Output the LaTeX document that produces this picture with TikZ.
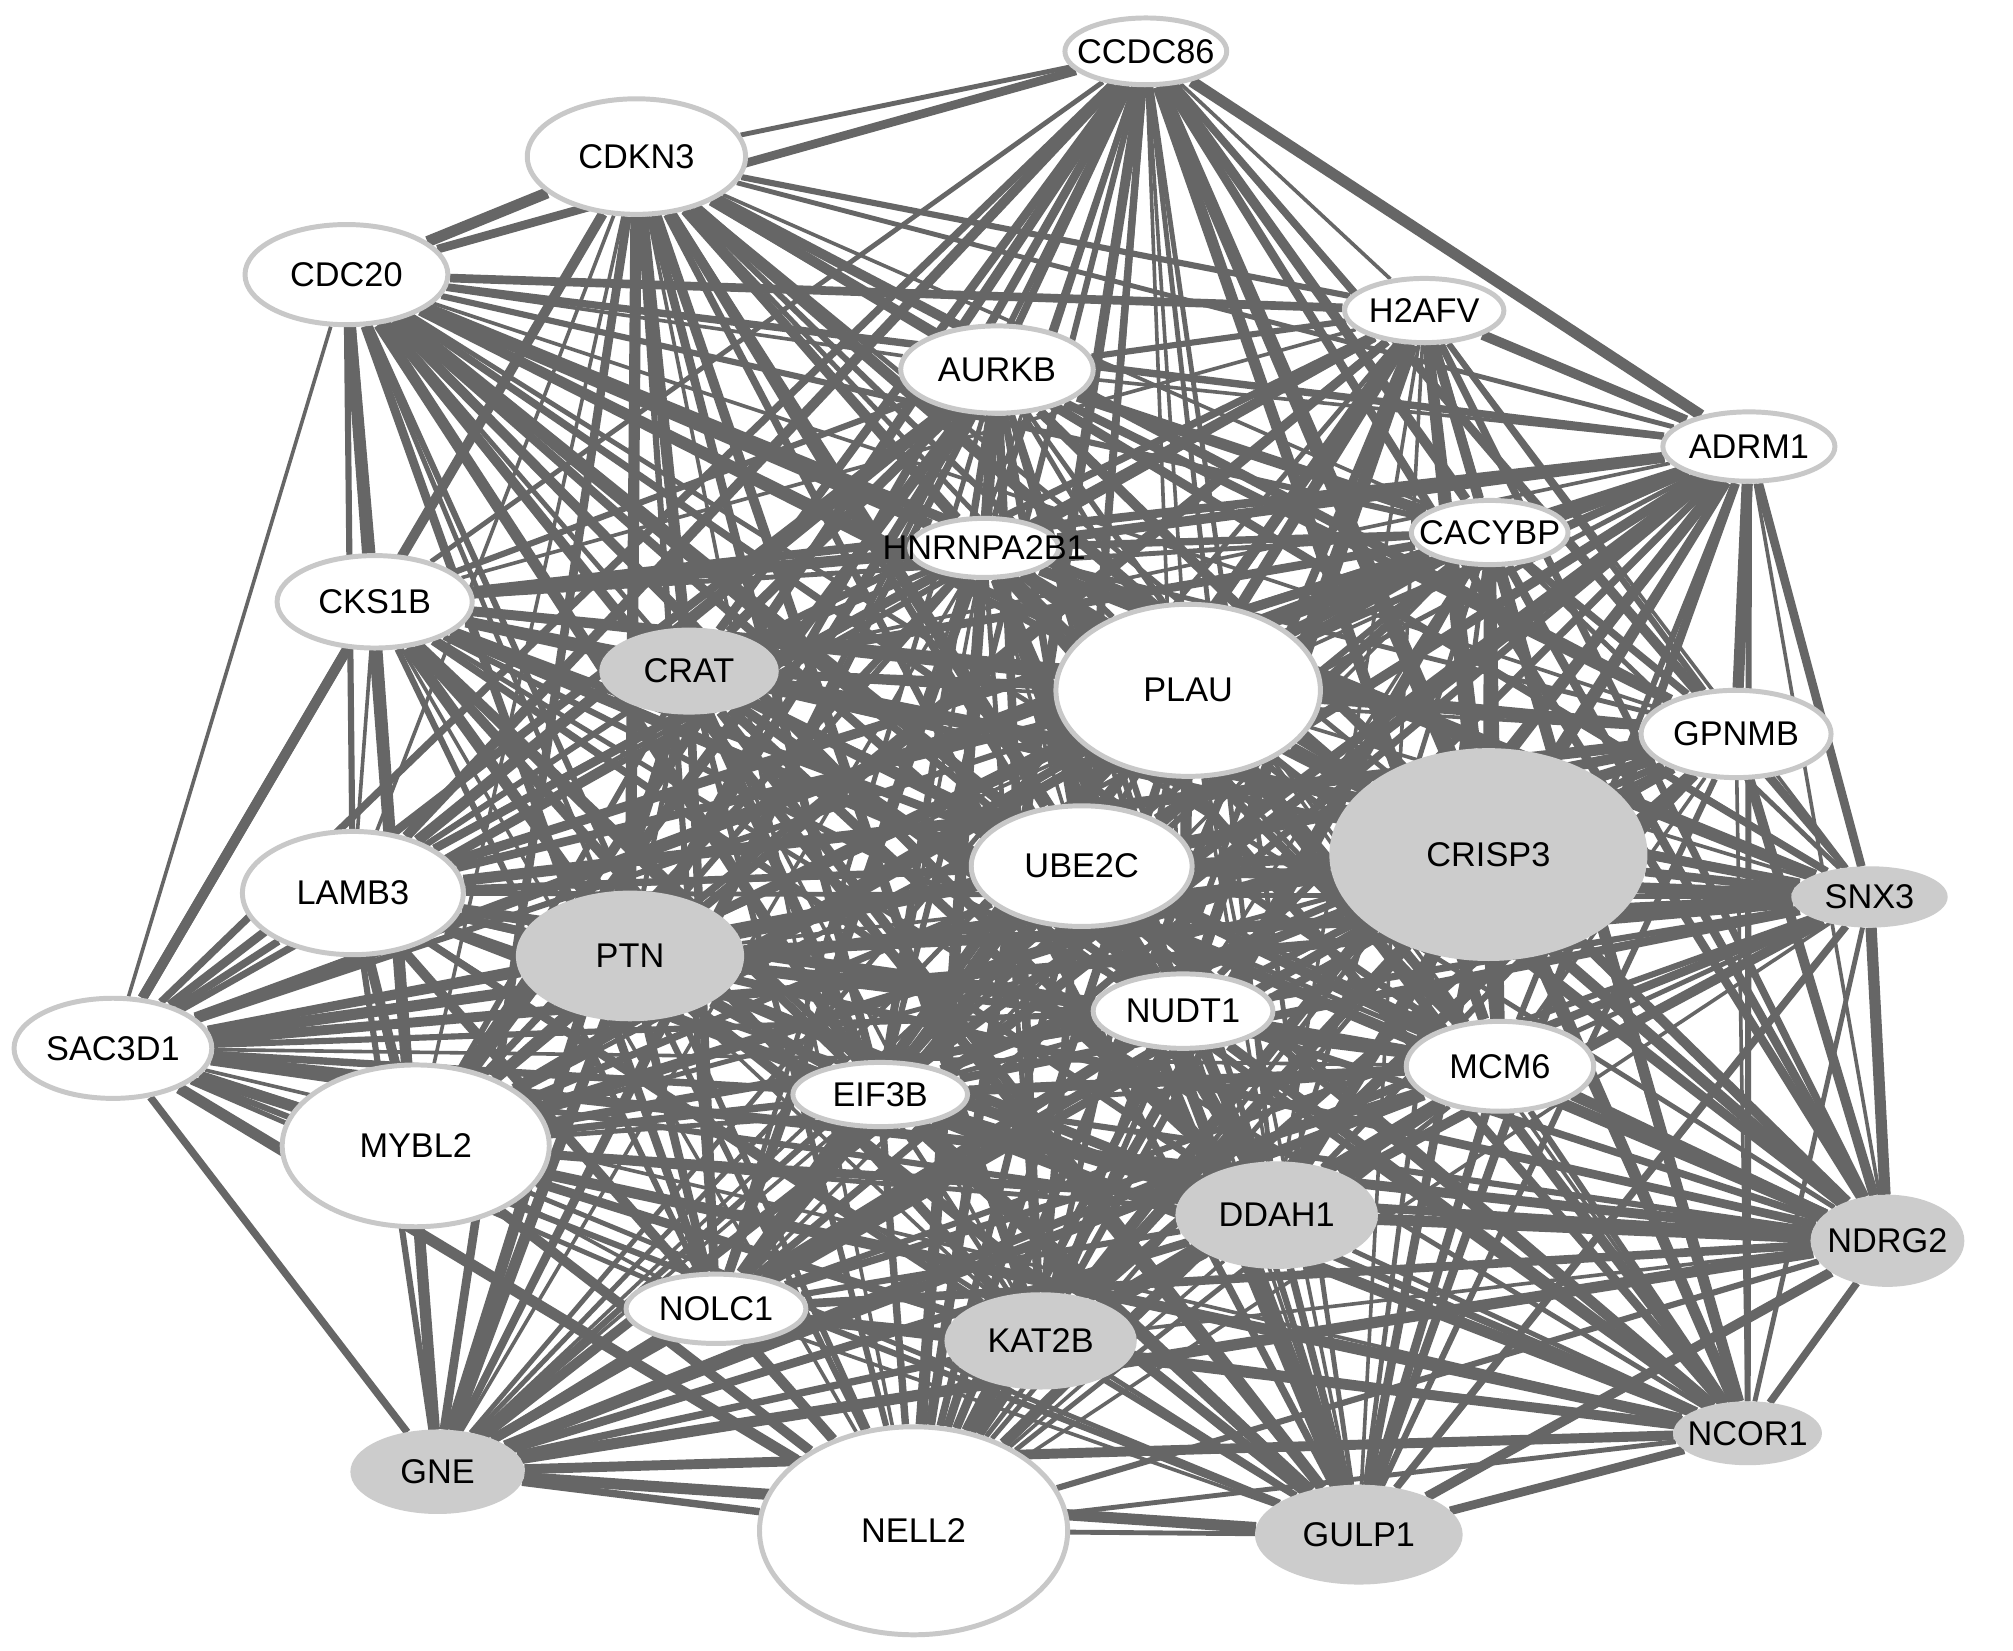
\documentclass[tikz,border=0pt]{standalone}
\usepackage{fontspec}
\setmainfont{Liberation Sans}
\usetikzlibrary{shapes.geometric}
\pgfdeclarelayer{bglayer}
\pgfdeclarelayer{edgelayer}
\pgfsetlayers{bglayer,edgelayer,main}
\definecolor{edgec}{RGB}{102,102,102}
\definecolor{ringc}{RGB}{200,200,200}
\definecolor{fillg}{RGB}{204,204,204}
\tikzset{
  gene/.style={ellipse, draw=ringc, line width=1.1pt, fill=white, inner sep=0pt},
  graygene/.style={ellipse, draw=fillg, line width=0.5pt, fill=fillg, inner sep=0pt},
  lbl/.style={inner sep=0pt, font=\fontsize{7.6}{8}\selectfont, text=black},
  link/.style={draw=edgec},
}
\newcommand\gn[6]{%
  \node[#6, minimum width=#4*0.02cm, minimum height=#5*0.02cm] (#1) at (#2*0.01, -#3*0.01) {};
  \node[lbl] (#1-t) at (#1) {#1};}
\def\genelist{CCDC86,CDKN3,CDC20,H2AFV,AURKB,ADRM1,HNRNPA2B1,CACYBP,CKS1B,CRAT,PLAU,GPNMB,CRISP3,UBE2C,LAMB3,SNX3,PTN,NUDT1,SAC3D1,MCM6,EIF3B,MYBL2,DDAH1,NDRG2,NOLC1,KAT2B,NCOR1,GNE,NELL2,GULP1}
\begin{document}
\begin{tikzpicture}
\begin{pgfonlayer}{bglayer}
\fill[white] (0,0) rectangle (15.68,-12.86);
\end{pgfonlayer}
\useasboundingbox (0,0) rectangle (15.68,-12.86);
\gn{CCDC86}{893}{40}{63}{26}{gene}
\gn{CDKN3}{496}{122}{85}{45}{gene}
\gn{CDC20}{270}{214}{79}{39}{gene}
\gn{H2AFV}{1110}{242}{62}{25}{gene}
\gn{AURKB}{777}{288}{75}{34}{gene}
\gn{ADRM1}{1363}{348}{67}{27}{gene}
\gn{HNRNPA2B1}{767}{427}{58}{23}{gene}
\gn{CACYBP}{1161}{415}{61}{25}{gene}
\gn{CKS1B}{292}{469}{76}{36}{gene}
\gn{CRAT}{537}{523}{69}{33}{graygene}
\gn{PLAU}{926}{538}{103}{67}{gene}
\gn{GPNMB}{1353}{572}{74}{34}{gene}
\gn{CRISP3}{1160}{666}{123}{82}{graygene}
\gn{UBE2C}{843}{675}{86}{47}{gene}
\gn{LAMB3}{275}{696}{86}{48}{gene}
\gn{SNX3}{1457}{699}{60}{23}{graygene}
\gn{PTN}{491}{745}{88}{50}{graygene}
\gn{NUDT1}{922}{788}{70}{29}{gene}
\gn{SAC3D1}{88}{817}{77}{39}{gene}
\gn{MCM6}{1169}{831}{73}{35}{gene}
\gn{EIF3B}{686}{853}{68}{25}{gene}
\gn{MYBL2}{324}{893}{104}{63}{gene}
\gn{DDAH1}{995}{947}{78}{41}{graygene}
\gn{NDRG2}{1471}{967}{59}{35}{graygene}
\gn{NOLC1}{558}{1020}{70}{27}{gene}
\gn{KAT2B}{811}{1045}{74}{37}{graygene}
\gn{NCOR1}{1362}{1117}{57}{24}{graygene}
\gn{GNE}{341}{1147}{67}{32}{graygene}
\gn{NELL2}{712}{1193}{120}{81}{gene}
\gn{GULP1}{1059}{1196}{80}{38}{graygene}
\begin{pgfonlayer}{edgelayer}
\foreach \a [count=\i] in \genelist {
  \foreach \b [count=\j] in \genelist {
    \ifnum\j>\i
      \pgfmathsetmacro\w{0.8+0.28*mod(\i*37+\j*17,7)}
      \draw[link, line width=\w pt] (\a) -- (\b);
    \fi
  }
}
\end{pgfonlayer}
\end{tikzpicture}
\end{document}
